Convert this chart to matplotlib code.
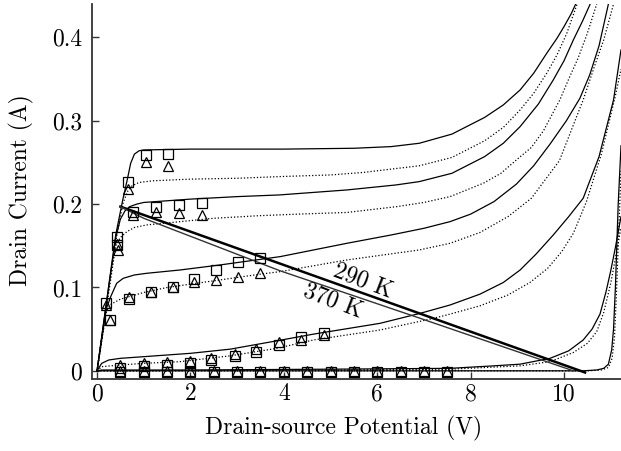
import matplotlib
matplotlib.use("Agg")
import matplotlib.pyplot as plt

plt.rcParams['font.family'] = ['cmr10', 'DejaVu Serif']
plt.rcParams['axes.formatter.use_mathtext'] = True
plt.rcParams['mathtext.fontset'] = 'cm'

# ---- model curves (solid = 290 K, dotted = 370 K) ----
s1_x = [0, 0.2, 0.4, 0.55, 0.65, 0.72, 0.8, 0.9, 1.0, 2.0, 4.0, 5.5, 6.3, 6.9, 7.6, 8.3, 8.7, 9.06, 9.35, 9.63, 9.85, 10.0, 10.15, 10.25]
s1_y = [0, 0.082, 0.163, 0.205, 0.23, 0.249, 0.26, 0.264, 0.265, 0.266, 0.266, 0.267, 0.269, 0.273, 0.284, 0.304, 0.319, 0.337, 0.357, 0.381, 0.399, 0.413, 0.428, 0.44]

d2_x = [0, 0.2, 0.4, 0.55, 0.65, 0.75, 0.9, 1.2, 2.0, 3.0, 3.9, 5.0, 5.7, 6.3, 6.9, 7.6, 8.3, 8.7, 9.06, 9.35, 9.63, 9.85, 10.06, 10.28]
d2_y = [0, 0.08, 0.155, 0.2, 0.215, 0.222, 0.226, 0.228, 0.23, 0.231, 0.233, 0.235, 0.238, 0.242, 0.246, 0.256, 0.276, 0.292, 0.313, 0.333, 0.357, 0.379, 0.405, 0.44]

s3_x = [0, 0.2, 0.4, 0.5, 0.6, 0.7, 0.85, 1.0, 2.0, 3.0, 3.9, 5.35, 6.4, 6.9, 7.6, 8.3, 8.7, 9.06, 9.45, 9.77, 10.0, 10.2, 10.4, 10.56]
s3_y = [0, 0.08, 0.16, 0.182, 0.192, 0.197, 0.2, 0.202, 0.206, 0.209, 0.211, 0.217, 0.223, 0.227, 0.237, 0.257, 0.273, 0.293, 0.32, 0.349, 0.372, 0.397, 0.42, 0.44]

d4_x = [0, 0.2, 0.4, 0.5, 0.64, 0.8, 1.06, 1.78, 2.5, 3.43, 4.3, 5.35, 6.42, 7.0, 7.56, 8.27, 8.65, 8.98, 9.3, 9.56, 9.91, 10.1, 10.3, 10.5, 10.7]
d4_y = [0, 0.075, 0.15, 0.16, 0.167, 0.172, 0.175, 0.179, 0.183, 0.186, 0.188, 0.19, 0.197, 0.202, 0.209, 0.225, 0.237, 0.253, 0.268, 0.288, 0.325, 0.35, 0.375, 0.405, 0.44]

s5_x = [0, 0.2, 0.3, 0.42, 0.56, 0.8, 1.06, 1.78, 2.63, 3.92, 5.35, 6.3, 7.0, 7.56, 8.0, 8.5, 8.98, 9.35, 9.7, 10.05, 10.34, 10.55, 10.75, 10.95]
s5_y = [0, 0.075, 0.09, 0.105, 0.111, 0.115, 0.117, 0.121, 0.127, 0.137, 0.153, 0.163, 0.171, 0.179, 0.188, 0.203, 0.224, 0.246, 0.272, 0.3, 0.327, 0.355, 0.39, 0.44]

d6_x = [0, 0.2, 0.3, 0.5, 1.0, 1.5, 2.0, 2.5, 3.0, 3.5, 3.92, 5.35, 6.9, 7.56, 8.2, 8.8, 9.3, 9.9, 10.41, 10.65, 10.85, 11.06]
d6_y = [0, 0.072, 0.08, 0.086, 0.094, 0.1, 0.104, 0.108, 0.112, 0.116, 0.119, 0.133, 0.145, 0.153, 0.166, 0.185, 0.207, 0.252, 0.325, 0.365, 0.397, 0.44]

s7_x = [0, 0.1, 0.25, 0.5, 1.0, 2.0, 2.85, 3.85, 4.63, 6.06, 6.92, 7.56, 8.2, 8.7, 9.06, 9.4, 9.77, 10.1, 10.41, 10.75, 11.06, 11.22]
s7_y = [0, 0.009, 0.013, 0.015, 0.017, 0.021, 0.026, 0.036, 0.044, 0.057, 0.069, 0.079, 0.092, 0.106, 0.121, 0.14, 0.163, 0.185, 0.207, 0.257, 0.325, 0.385]

d8_x = [0, 0.1, 0.5, 1.0, 1.78, 2.85, 3.85, 4.63, 6.06, 7.13, 7.49, 8.2, 8.8, 9.27, 9.65, 9.95, 10.2, 10.48, 10.8, 11.1, 11.22]
d8_y = [0, 0.005, 0.007, 0.009, 0.011, 0.018, 0.027, 0.037, 0.049, 0.062, 0.067, 0.078, 0.091, 0.106, 0.123, 0.143, 0.165, 0.203, 0.26, 0.33, 0.362]

s9_x = [0, 0.1, 2.0, 5.0, 7.56, 8.5, 9.06, 9.7, 10.1, 10.41, 10.6, 10.77, 10.9, 11.0, 11.1, 11.22]
s9_y = [0, 0.001, 0.001, 0.002, 0.003, 0.006, 0.008, 0.015, 0.024, 0.037, 0.05, 0.068, 0.095, 0.12, 0.148, 0.185]

d10_x = [0, 5.0, 7.56, 9.06, 9.7, 10.2, 10.5, 10.7, 10.85, 11.0, 11.1, 11.22]
d10_y = [0, 0.001, 0.002, 0.006, 0.011, 0.022, 0.033, 0.047, 0.07, 0.105, 0.135, 0.172]

s11_x = [0, 5.0, 9.0, 10.4, 10.7, 10.85, 10.95, 11.02, 11.06, 11.1, 11.13, 11.16, 11.22]
s11_y = [0, 0, 0, 0.0, 0.001, 0.003, 0.008, 0.025, 0.05, 0.1, 0.15, 0.2, 0.27]

d12_x = [0, 5.0, 9.0, 10.5, 10.8, 10.95, 11.03, 11.08, 11.12, 11.16, 11.22]
d12_y = [0, 0, 0, 0.0, 0.001, 0.004, 0.015, 0.04, 0.09, 0.15, 0.24]

solid_curves = [(s1_x, s1_y), (s3_x, s3_y), (s5_x, s5_y), (s7_x, s7_y), (s9_x, s9_y), (s11_x, s11_y)]
dotted_curves = [(d2_x, d2_y), (d4_x, d4_y), (d6_x, d6_y), (d8_x, d8_y), (d10_x, d10_y), (d12_x, d12_y)]

# ---- load lines ----
load290_x = [0.5, 10.45]
load290_y = [0.197, -0.002]
load370_x = [0.5, 1.0, 3.92, 6.92, 10.2]
load370_y = [0.197, 0.183, 0.12, 0.063, 0.0]

# ---- measured points: squares = 290 K, triangles = 370 K ----
sq_x = [0.42, 0.66, 1.04, 1.53,
        0.42, 0.78, 1.26, 1.75, 2.25,
        0.19, 0.27, 0.68, 1.15, 1.62, 2.08, 2.54, 3.01, 3.49,
        0.5, 1.0, 1.5, 2.0, 2.45, 2.95, 3.4, 3.9, 4.37, 4.85,
        0.5, 1.0, 1.5, 2.0, 2.5, 3.0, 3.5, 4.0, 4.5, 5.0, 5.5, 6.0, 6.5, 7.0, 7.5]
sq_y = [0.161, 0.227, 0.259, 0.26,
        0.151, 0.19, 0.197, 0.199, 0.201,
        0.081, 0.061, 0.086, 0.094, 0.10, 0.11, 0.121, 0.13, 0.135,
        0.004, 0.006, 0.007, 0.009, 0.013, 0.018, 0.023, 0.031, 0.041, 0.045,
        -0.001, -0.001, -0.001, -0.001, -0.001, -0.001, -0.001, -0.001, -0.001, -0.001, -0.001, -0.001, -0.001, -0.001, -0.001]

tri_x = [0.43, 0.67, 1.04, 1.53,
         0.45, 0.78, 1.26, 1.75, 2.25,
         0.2, 0.27, 0.68, 1.15, 1.62, 2.08, 2.54, 3.01, 3.49,
         0.5, 1.0, 1.5, 2.0, 2.45, 2.95, 3.4, 3.9, 4.37, 4.85,
         0.5, 1.0, 1.5, 2.0, 2.5, 3.0, 3.5, 4.0, 4.5, 5.0, 5.5, 6.0, 6.5, 7.0, 7.5]
tri_y = [0.152, 0.218, 0.25, 0.246,
         0.145, 0.187, 0.19, 0.189, 0.187,
         0.079, 0.061, 0.088, 0.095, 0.1, 0.106, 0.109, 0.112, 0.117,
         0.007, 0.009, 0.011, 0.012, 0.016, 0.02, 0.026, 0.034, 0.037, 0.043,
         0.0, 0.0, 0.0, 0.0, 0.0, 0.0, 0.0, 0.0, 0.0, 0.0, 0.0, 0.0, 0.0, 0.0, 0.0]

xticks = [0, 2, 4, 6, 8, 10]
yticks = [0, 0.1, 0.2, 0.3, 0.4]
ytick_labels = ['0', '0.1', '0.2', '0.3', '0.4']

FS = 17

fig = plt.figure(figsize=(6.21, 4.51), dpi=100)
ax = fig.add_axes([0.148, 0.160, 0.852, 0.831])

for x, y in solid_curves:
    ax.plot(x, y, color='black', lw=0.9, solid_joinstyle='round')
for x, y in dotted_curves:
    ax.plot(x, y, color='black', lw=0.9, linestyle=(0, (1, 1.6)))

ax.plot(load290_x, load290_y, color='black', lw=1.8)
ax.plot(load370_x, load370_y, color='#333333', lw=1.0)

ax.plot(sq_x, sq_y, linestyle='none', marker='s', ms=7, mfc='none', mec='black', mew=0.9)
ax.plot(tri_x, tri_y, linestyle='none', marker='^', ms=7, mfc='none', mec='black', mew=0.9)

ax.text(5.7, 0.108, '290 K', rotation=-21, ha='center', va='center', fontsize=FS)
ax.text(5.05, 0.084, '370 K', rotation=-21, ha='center', va='center', fontsize=FS)

ax.set_xlim(-0.11, 11.22)
ax.set_ylim(-0.0096, 0.44)
ax.set_xticks(xticks)
ax.set_xticklabels([str(t) for t in xticks])
ax.set_yticks(yticks)
ax.set_yticklabels(ytick_labels)
ax.tick_params(direction='in', length=5, width=1.0, labelsize=FS, color='#333333')
ax.tick_params(axis='x', pad=3)
ax.tick_params(axis='y', pad=7)

for side in ['top', 'right']:
    ax.spines[side].set_visible(False)
for side in ['left', 'bottom']:
    ax.spines[side].set_linewidth(1.3)
    ax.spines[side].set_color('#333333')

ax.set_xlabel('Drain-source Potential (V)', fontsize=FS)
ax.set_ylabel('Drain Current (A)', fontsize=FS)
ax.xaxis.set_label_coords(0.476, -0.1)
ax.yaxis.set_label_coords(-0.11, 0.504)

fig.savefig('out.png', dpi=100)
